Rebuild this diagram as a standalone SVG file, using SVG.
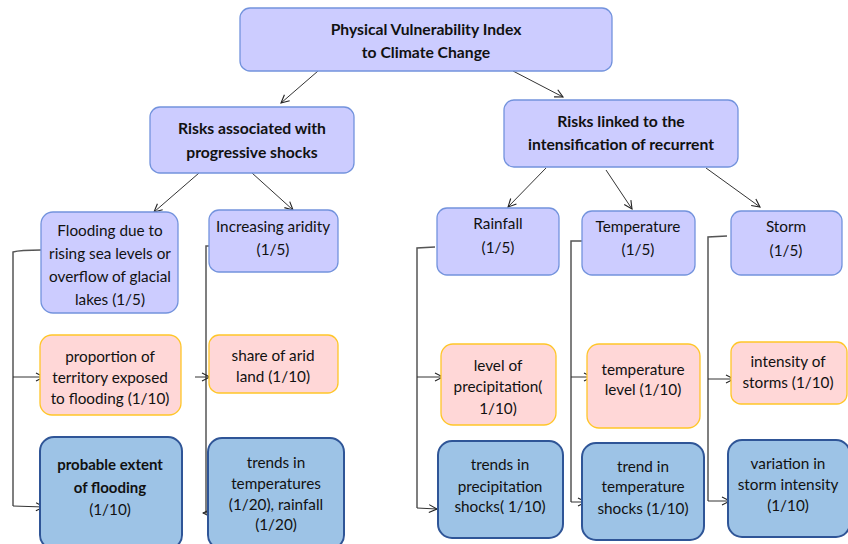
<svg xmlns="http://www.w3.org/2000/svg" width="848" height="544" viewBox="0 0 848 544">
<defs>
<marker id="arr" markerWidth="10" markerHeight="10" refX="9" refY="5" orient="auto" markerUnits="userSpaceOnUse">
<path d="M1,1 L9,5 L1,9" fill="none" stroke="#222" stroke-width="1.1"/>
</marker>
<style>
text{font-family:Lato,"Liberation Sans",sans-serif;font-size:15.3px;fill:#111;text-anchor:middle}
.b{font-weight:bold;font-size:15.7px}
.lav{fill:#CCCCFF;stroke:#7393DD;stroke-width:1.3}
.pink{fill:#FFD7D7;stroke:#FFC629;stroke-width:1.3}
.blue{fill:#9DC3E6;stroke:#2F5597;stroke-width:2}
.c{fill:none;stroke:#333;stroke-width:1}
.bus{fill:none;stroke:#555;stroke-width:1.5}
</style>
</defs>
<rect width="848" height="544" fill="#fff"/>
<g id="connectors">
<line class="c" x1="318" y1="71" x2="281" y2="103" marker-end="url(#arr)"/>
<line class="c" x1="513" y1="71" x2="563" y2="97" marker-end="url(#arr)"/>
<line class="c" x1="199" y1="173" x2="154" y2="212" marker-end="url(#arr)"/>
<line class="c" x1="252" y1="173" x2="293" y2="210" marker-end="url(#arr)"/>
<line class="c" x1="546" y1="168" x2="508" y2="207" marker-end="url(#arr)"/>
<line class="c" x1="606" y1="170" x2="632" y2="209" marker-end="url(#arr)"/>
<line class="c" x1="706" y1="168" x2="760" y2="207" marker-end="url(#arr)"/>
<path class="bus" d="M41,250 Q20,250 13,252 L13,506"/>
<line class="c" x1="13" y1="377" x2="44" y2="377" marker-end="url(#arr)"/>
<line class="c" x1="13" y1="506" x2="44" y2="507" marker-end="url(#arr)"/>
<path class="bus" d="M209,246 L206,246 L206,513"/>
<line class="c" x1="195" y1="377" x2="210" y2="377" marker-end="url(#arr)"/>
<line class="c" x1="212" y1="513" x2="203" y2="513" marker-end="url(#arr)"/>
<path class="bus" d="M435,247 L417,248 L417,508"/>
<line class="c" x1="417" y1="377" x2="443" y2="377" marker-end="url(#arr)"/>
<line class="c" x1="417" y1="508" x2="437" y2="509" marker-end="url(#arr)"/>
<path class="bus" d="M582,241 L571,241 L571,502"/>
<line class="c" x1="571" y1="377" x2="592" y2="377" marker-end="url(#arr)"/>
<line class="c" x1="571" y1="502" x2="586" y2="502" marker-end="url(#arr)"/>
<path class="bus" d="M727,236 L708,237 L708,501"/>
<line class="c" x1="708" y1="379" x2="734" y2="379" marker-end="url(#arr)"/>
<line class="c" x1="708" y1="501" x2="730" y2="501" marker-end="url(#arr)"/>
</g>
<g id="pvi">
<rect class="lav" x="240" y="8" width="372" height="63" rx="10"/>
<text class="b" x="426" y="35">Physical Vulnerability Index</text>
<text class="b" x="426" y="58">to Climate Change</text>
</g>
<g id="progressive">
<rect class="lav" x="150" y="107" width="204" height="66" rx="10"/>
<text class="b" x="252" y="134">Risks associated with</text>
<text class="b" x="252" y="158">progressive shocks</text>
</g>
<g id="recurrent">
<rect class="lav" x="504" y="100" width="234" height="67" rx="10"/>
<text class="b" x="621" y="127">Risks linked to the</text>
<text class="b" x="621" y="150">intensification of recurrent</text>
</g>
<g id="flooding">
<rect class="lav" x="41" y="212" width="137" height="101" rx="12"/>
<text x="110" y="236">Flooding due to</text>
<text x="110" y="259">rising sea levels or</text>
<text x="110" y="282">overflow of glacial</text>
<text x="110" y="305">lakes (1/5)</text>
</g>
<g id="aridity">
<rect class="lav" x="209" y="210" width="129" height="62" rx="10"/>
<text x="273" y="232">Increasing aridity</text>
<text x="273" y="255">(1/5)</text>
</g>
<g id="rainfall">
<rect class="lav" x="437" y="208" width="122" height="67" rx="10"/>
<text x="498" y="229">Rainfall</text>
<text x="498" y="253">(1/5)</text>
</g>
<g id="temperature">
<rect class="lav" x="582" y="211" width="113" height="64" rx="10"/>
<text x="638" y="232">Temperature</text>
<text x="638" y="255">(1/5)</text>
</g>
<g id="storm">
<rect class="lav" x="731" y="211" width="111" height="64" rx="10"/>
<text x="786" y="232">Storm</text>
<text x="786" y="256">(1/5)</text>
</g>
<g id="proportion">
<rect class="pink" x="40" y="335" width="141" height="80" rx="12"/>
<text x="110" y="362">proportion of</text>
<text x="110" y="383">territory exposed</text>
<text x="110" y="404">to flooding (1/10)</text>
</g>
<g id="arid-land">
<rect class="pink" x="209" y="335" width="129" height="58" rx="10"/>
<text x="273" y="361">share of arid</text>
<text x="273" y="382">land (1/10)</text>
</g>
<g id="precip-level">
<rect class="pink" x="441" y="344" width="115" height="81" rx="12"/>
<text x="498" y="371">level of</text>
<text x="498" y="392">precipitation(</text>
<text x="498" y="414">1/10)</text>
</g>
<g id="temp-level">
<rect class="pink" x="587" y="344" width="113" height="84" rx="12"/>
<text x="643" y="375">temperature</text>
<text x="643" y="395">level (1/10)</text>
</g>
<g id="storm-intensity">
<rect class="pink" x="731" y="342" width="116" height="62" rx="10"/>
<text x="788" y="367">intensity of</text>
<text x="788" y="388">storms (1/10)</text>
</g>
<g id="flood-extent">
<rect class="blue" x="40" y="437" width="142" height="112" rx="14"/>
<text class="b" x="110" y="470" style="font-size:15px">probable extent</text>
<text class="b" x="110" y="493" style="font-size:15px">of flooding</text>
<text x="110" y="515">(1/10)</text>
</g>
<g id="temp-rain-trends">
<rect class="blue" x="208" y="438" width="136" height="111" rx="14"/>
<text x="276" y="468">trends in</text>
<text x="276" y="489">temperatures</text>
<text x="276" y="510">(1/20), rainfall</text>
<text x="276" y="530">(1/20)</text>
</g>
<g id="precip-shocks">
<rect class="blue" x="438" y="441" width="125" height="97" rx="14"/>
<text x="500" y="470">trends in</text>
<text x="500" y="492">precipitation</text>
<text x="500" y="512">shocks( 1/10)</text>
</g>
<g id="temp-shocks">
<rect class="blue" x="582" y="443" width="122" height="97" rx="14"/>
<text x="643" y="472">trend in</text>
<text x="643" y="492">temperature</text>
<text x="643" y="514">shocks (1/10)</text>
</g>
<g id="storm-variation">
<rect class="blue" x="728" y="440" width="122" height="97" rx="14"/>
<text x="788" y="469">variation in</text>
<text x="788" y="490">storm intensity</text>
<text x="788" y="511">(1/10)</text>
</g>
</svg>
